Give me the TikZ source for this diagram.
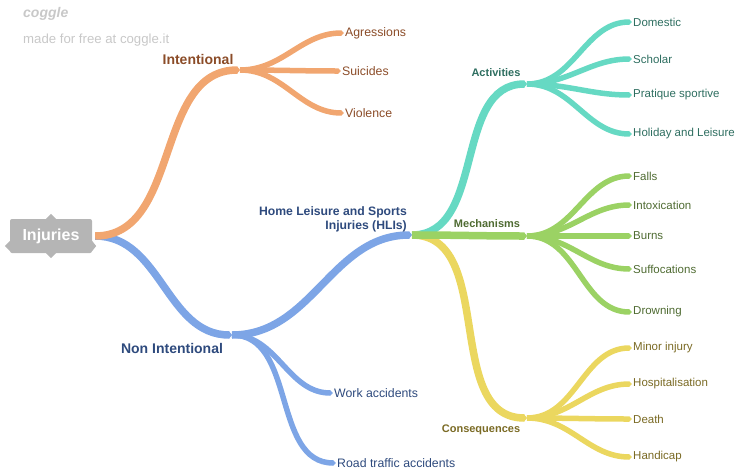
\documentclass[tikz,border=0pt]{standalone}
\usepackage{fontspec}
\setmainfont{Liberation Sans}
\usetikzlibrary{arrows.meta}
\definecolor{injgray}{RGB}{181,181,181}
\definecolor{coggray}{RGB}{200,200,200}
\definecolor{intorange}{RGB}{241,166,112}
\definecolor{inttext}{RGB}{139,76,40}
\definecolor{nonblue}{RGB}{125,165,230}
\definecolor{nontext}{RGB}{46,74,125}
\definecolor{actteal}{RGB}{102,217,195}
\definecolor{acttext}{RGB}{46,110,96}
\definecolor{mecgreen}{RGB}{155,210,100}
\definecolor{mectext}{RGB}{79,107,50}
\definecolor{conyellow}{RGB}{235,215,95}
\definecolor{context}{RGB}{122,106,36}

\begin{document}
\begin{tikzpicture}[x=1pt, y=-1pt,
    trunk/.style={line width=7.5pt, -{Triangle[length=3pt,width=7.5pt]}, out=0, in=180},
    twig/.style={line width=5.5pt, -{Triangle[length=3pt,width=5.5pt]}, out=0, in=180},
    rootbox/.style={fill=injgray, text=white, rounded corners=2pt, minimum width=82pt,
        minimum height=34pt, font=\fontsize{16}{18}\selectfont\bfseries},
    mainlab/.style={font=\fontsize{14}{16}\selectfont\bfseries, inner sep=0pt},
    sublab/.style={font=\fontsize{11}{13}\selectfont\bfseries, inner sep=0pt},
    leaf/.style={font=\fontsize{11.5}{13}\selectfont, anchor=west, inner sep=1pt},
    bigleaf/.style={leaf, font=\fontsize{12.3}{14}\selectfont}]
    \useasboundingbox (0,0) rectangle (736,469);

    % Watermark
    \node[anchor=west, inner sep=0pt, text=coggray, font=\fontsize{14}{16}\selectfont\bfseries\itshape] (logo) at (23,14) {coggle};
    \node[anchor=west, inner sep=0pt, text=coggray, font=\fontsize{13.2}{15}\selectfont] (made) at (23,40) {made for free at coggle.it};

    % Root
    \node[rootbox] (inj) at (51,236) {Injuries};
    \fill[injgray] ([xshift=-5pt]inj.north) -- ++(5,-5) -- ++(5,5) -- cycle;
    \fill[injgray] ([xshift=-5pt]inj.south) -- ++(5,5) -- ++(5,-5) -- cycle;
    \fill[injgray] ([yshift=-5pt]inj.west) -- ++(-5,5) -- ++(5,5) -- cycle;
    \fill[injgray] ([yshift=-5pt]inj.east) -- ++(4,5) -- ++(-4,5) -- cycle;
    \coordinate (injR) at ([xshift=3pt]inj.east);

    % Branch ends
    \coordinate (intE) at (240,70);
    \coordinate (nonE) at (232,335);
    \coordinate (hliE) at (412,235);
    \coordinate (actE) at (527,84);
    \coordinate (mecE) at (527,236);
    \coordinate (conE) at (527,418);

    % Main branches
    \draw[trunk, nonblue] (injR) to (nonE);
    \draw[trunk, intorange] (injR) to (intE);
    \draw[trunk, nonblue] (nonE) to (hliE);
    \draw[trunk, actteal] (hliE) to (actE);
    \draw[trunk, conyellow] (hliE) to (conE);
    \draw[trunk, mecgreen] (hliE) to (mecE);

    % Branch labels
    \node[mainlab, text=inttext] (intL) at (198,59) {Intentional};
    \node[mainlab, text=nontext] (nonL) at (172,348) {Non Intentional};
    \node[mainlab, text=nontext, anchor=east, align=right, font=\fontsize{12.2}{14}\selectfont\bfseries] (hliL) at (407,219) {Home Leisure and Sports\\Injuries (HLIs)};
    \node[sublab, text=acttext] (actL) at (496,73) {Activities};
    \node[sublab, text=mectext] (mecL) at (487,224) {Mechanisms};
    \node[sublab, text=context] (conL) at (481,430) {Consequences};

    % Intentional
    \node[bigleaf, text=inttext] (agr) at (344,33) {Agressions};
    \node[bigleaf, text=inttext] (sui) at (341,71) {Suicides};
    \node[bigleaf, text=inttext] (vio) at (344,113) {Violence};
    \foreach \n in {agr,sui,vio}
        \draw[twig, intorange] (intE) to (\n.west);

    % Non intentional
    \node[bigleaf, text=nontext] (work) at (333,393) {Work accidents};
    \node[bigleaf, text=nontext] (road) at (336,463) {Road traffic accidents};
    \foreach \n in {work,road}
        \draw[twig, nonblue] (nonE) to (\n.west);

    % Activities
    \node[leaf, text=acttext] (dom) at (632,22) {Domestic};
    \node[leaf, text=acttext] (sch) at (632,59) {Scholar};
    \node[leaf, text=acttext] (pra) at (632,95) {Pratique sportive};
    \node[leaf, text=acttext] (hol) at (632,134) {Holiday and Leisure};
    \foreach \n in {dom,sch,pra,hol}
        \draw[twig, actteal] (actE) to (\n.west);

    % Mechanisms
    \node[leaf, text=mectext] (fal) at (632,176) {Falls};
    \node[leaf, text=mectext] (tox) at (632,205) {Intoxication};
    \node[leaf, text=mectext] (bur) at (632,236) {Burns};
    \node[leaf, text=mectext] (suf) at (632,269) {Suffocations};
    \node[leaf, text=mectext] (dro) at (632,312) {Drowning};
    \foreach \n in {fal,tox,bur,suf,dro}
        \draw[twig, mecgreen] (mecE) to (\n.west);

    % Consequences
    \node[leaf, text=context] (min) at (632,348) {Minor injury};
    \node[leaf, text=context] (hos) at (632,384) {Hospitalisation};
    \node[leaf, text=context] (dea) at (632,419) {Death};
    \node[leaf, text=context] (han) at (632,457) {Handicap};
    \foreach \n in {min,hos,dea,han}
        \draw[twig, conyellow] (conE) to (\n.west);
\end{tikzpicture}
\end{document}
